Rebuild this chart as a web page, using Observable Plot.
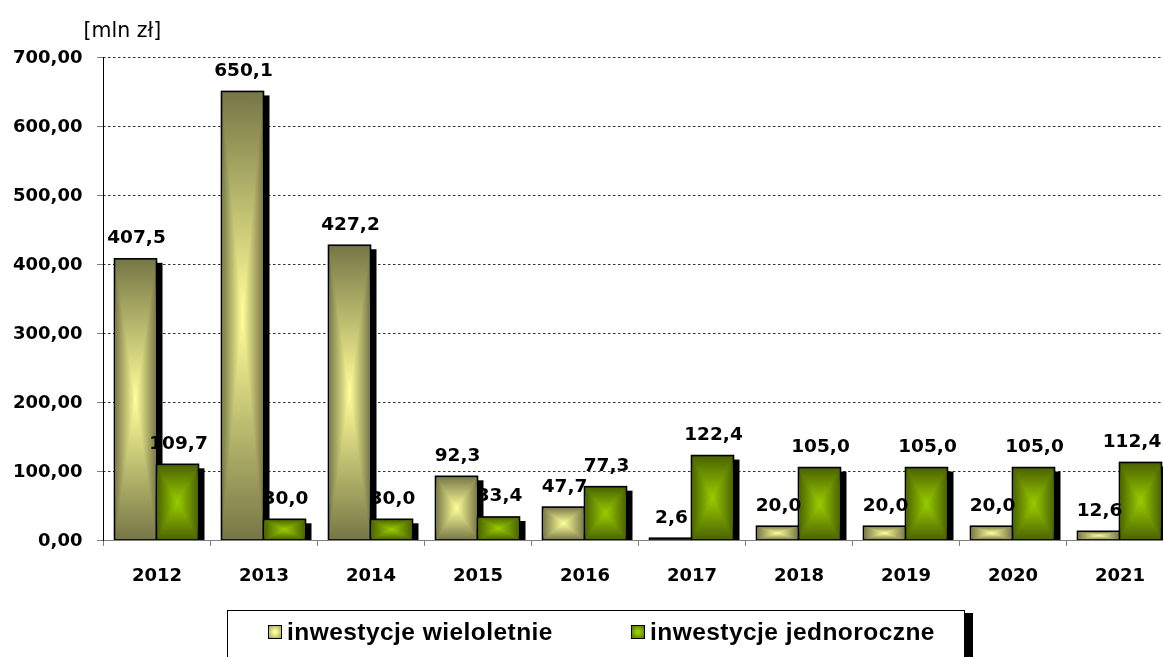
<!DOCTYPE html>
<html>
<head>
<meta charset="utf-8">
<script src="https://cdn.jsdelivr.net/npm/d3@7"></script>
<script src="https://cdn.jsdelivr.net/npm/@observablehq/plot@0.6"></script>
<style>
  html, body { margin: 0; padding: 0; background: #fff; overflow: hidden; }
  #wrap { position: relative; width: 1163px; height: 657px; overflow: hidden; font-family: "DejaVu Sans", sans-serif; }
  #chart svg { overflow: visible; display: block; }
  #legend { position: absolute; left: 227px; top: 610px; width: 736px; height: 70px; border: 1px solid #000; box-shadow: 8px 3px 0 #000; background: #fff; }
  .item { position: absolute; top: 7px; font-family: "Liberation Sans", Arial, sans-serif; font-weight: bold; font-size: 24.5px; letter-spacing: 0.45px; display: flex; align-items: center; white-space: nowrap; }
  .sw { width: 12px; height: 12px; border: 1.5px solid #000; margin-right: 5px; box-sizing: content-box; }
</style>
</head>
<body>
<div id="wrap">
  <div id="chart"></div>
  <div id="legend"></div>
</div>
<script>
const years = ["2012","2013","2014","2015","2016","2017","2018","2019","2020","2021"];
const wieloletnie = [407.5, 650.1, 427.2, 92.3, 47.7, 2.6, 20.0, 20.0, 20.0, 12.6];
const jednoroczne = [109.7, 30.0, 30.0, 33.4, 77.3, 122.4, 105.0, 105.0, 105.0, 112.4];
const yTicks = [0, 100, 200, 300, 400, 500, 600, 700];
const seriesNames = ["inwestycje wieloletnie", "inwestycje jednoroczne"];

const dataW = years.map((y, i) => ({year: y, value: wieloletnie[i]}));
const dataJ = years.map((y, i) => ({year: y, value: jednoroczne[i]}));

const fmt1 = v => v.toFixed(1).replace(".", ",");
const fmt2 = v => v.toFixed(2).replace(".", ",");

function defs() {
  const d = d3.create("svg:defs");
  const mk = (id, edge, center, vertical) => {
    const g = d.append("linearGradient").attr("id", id)
      .attr("x1", 0).attr("y1", 0).attr("x2", vertical ? 0 : 1).attr("y2", vertical ? 1 : 0);
    g.append("stop").attr("offset", "0%").attr("stop-color", edge);
    g.append("stop").attr("offset", "50%").attr("stop-color", center);
    g.append("stop").attr("offset", "100%").attr("stop-color", edge);
  };
  mk("yh", "#767646", "#ffff99", false);
  mk("yv", "#767646", "#ffff99", true);
  mk("gh", "#4a6200", "#99cc00", false);
  mk("gv", "#4a6200", "#99cc00", true);
  return d.node();
}

const font = "DejaVu Sans, sans-serif";
const inW = {insetLeft: 11.5, insetRight: 53.5};
const inJ = {insetLeft: 53.5, insetRight: 11.5};
const lab = {fontSize: 18.5, fontWeight: "bold", fill: "#000", dy: -22};

const plot = Plot.plot({
  width: 1163,
  height: 600,
  marginLeft: 103,
  marginRight: -10,
  marginTop: 57,
  marginBottom: 60,
  style: {fontFamily: font, background: "transparent", overflow: "visible"},
  x: {domain: years, padding: 0, label: null},
  y: {domain: [0, 700], label: null},
  marks: [
    defs,
    Plot.ruleY(yTicks.filter(d => d > 0), {stroke: "#333", strokeWidth: 1, strokeDasharray: "2.5,2.5"}),
    // shadows
    Plot.barY(dataW, {x: "year", y: "value", fill: "#000", dx: 6, insetTop: 4, ...inW}),
    Plot.barY(dataJ, {x: "year", y: "value", fill: "#000", dx: 6, insetTop: 4, ...inJ}),
    // bars: horizontal gradient, then vertical gradient darkened -> rectangular gradient
    Plot.barY(dataW, {x: "year", y: "value", fill: "url(#yh)", ...inW}),
    Plot.barY(dataW, {x: "year", y: "value", fill: "url(#yv)", mixBlendMode: "darken", stroke: "#000", strokeWidth: 1.6, ...inW}),
    Plot.barY(dataJ, {x: "year", y: "value", fill: "url(#gh)", ...inJ}),
    Plot.barY(dataJ, {x: "year", y: "value", fill: "url(#gv)", mixBlendMode: "darken", stroke: "#000", strokeWidth: 1.6, ...inJ}),
    // axes
    Plot.ruleY([0], {stroke: "#808080", strokeWidth: 1.2}),
    Plot.ruleX(years, {x: d => d, y1: 0, y2: 0, dx: -53.5, insetBottom: -6, stroke: "#808080"}),
    Plot.frame({anchor: "left", stroke: "#000"}),
    Plot.axisY({ticks: yTicks, tickSize: 6, tickPadding: 15, tickFormat: fmt2, fontSize: 18, fontWeight: "bold", stroke: "#808080", label: null}),
    Plot.axisX({tickSize: 0, tickPadding: 28, fontSize: 18, fontWeight: "bold", label: null}),
    // value labels (the last one is kept inside the chart edge, as in the original)
    Plot.text(dataW, {x: "year", y: "value", text: d => fmt1(d.value), dx: -20.5, ...lab}),
    Plot.text(dataJ.slice(0, -1), {x: "year", y: "value", text: d => fmt1(d.value), dx: 21.5, ...lab}),
    Plot.text(dataJ.slice(-1), {x: "year", y: "value", text: d => fmt1(d.value), dx: 12, ...lab}),
    Plot.text(["[mln zł]"], {frameAnchor: "top-left", text: d => d, dx: -20, dy: -35, textAnchor: "start", fontSize: 20.5, fill: "#000"})
  ]
});
document.getElementById("chart").appendChild(plot);

const legend = document.getElementById("legend");
const swatches = [
  {name: seriesNames[0], left: 40, bg: "radial-gradient(circle, #ffff99 15%, #a0a058 100%)"},
  {name: seriesNames[1], left: 403, bg: "radial-gradient(circle, #99cc00 15%, #557000 100%)"}
];
swatches.forEach(s => {
  const it = document.createElement("div");
  it.className = "item";
  it.style.left = s.left + "px";
  const sw = document.createElement("div");
  sw.className = "sw";
  sw.style.background = s.bg;
  const t = document.createElement("span");
  t.textContent = s.name;
  it.appendChild(sw);
  it.appendChild(t);
  legend.appendChild(it);
});
</script>
</body>
</html>
